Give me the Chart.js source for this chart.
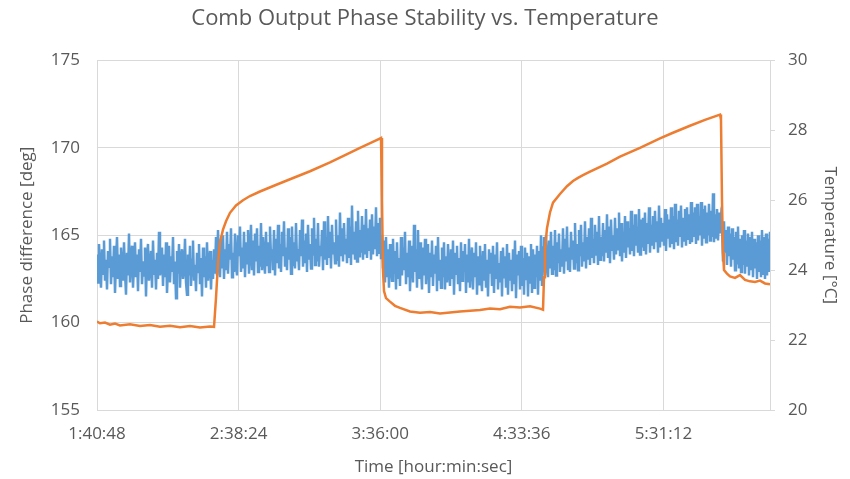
<!DOCTYPE html>
<html>
<head>
<meta charset="utf-8">
<script src="https://cdn.jsdelivr.net/npm/chart.js@4.4.1/dist/chart.umd.min.js"></script>
<style>
  html, body { margin: 0; padding: 0; background: #ffffff; }
  #wrap { width: 850px; height: 479px; }
</style>
</head>
<body>
<div id="wrap"><canvas id="c" width="850" height="479"></canvas></div>
<script>
// ---- Data ----
const chartTitle = 'Comb Output Phase Stability vs. Temperature';
const xTitle = 'Time [hour:min:sec]';
const yLeftTitle = 'Phase difference [deg]';
const yRightTitle = 'Temperature [°C]';

const timeTickLabels = ['1:40:48', '2:38:24', '3:36:00', '4:33:36', '5:31:12'];
const axisEndTime = '6:14:34';
const leftTicks = [155, 160, 165, 170, 175];
const rightTicks = [20, 22, 24, 26, 28, 30];

// Phase difference [deg], evenly sampled from axis start to axis end
const phaseValues = [
  // 1:40:48 – heater on
  163.9, 162.3, 164.5, 163.1, 162.0, 164.2, 162.8, 164.7, 162.4, 163.6,
  161.9, 164.1, 163.2, 164.8, 162.2, 163.8, 162.6, 164.4, 161.7, 163.5,
  164.9, 162.5, 163.9, 162.1, 164.3, 163.0, 162.4, 164.6, 162.9, 161.6,
  164.0, 162.7, 165.1, 162.3, 163.7, 164.4, 162.0, 163.3, 164.6, 162.6,
  163.9, 161.8, 164.2, 162.9, 164.8, 162.2, 163.5, 162.7, 164.3, 161.5,
  163.8, 164.5, 162.4, 163.1, 164.1, 162.0, 164.7, 162.8, 163.6, 161.9,
  164.0, 162.5, 165.2, 162.7, 163.4, 164.3, 162.1, 163.9, 162.6, 164.6,
  161.7, 163.2, 164.4, 162.3, 163.8, 162.9, 164.9, 162.2, 163.5, 161.4,
  164.1, 162.8, 164.5, 162.0, 163.7, 164.2, 162.5, 163.0, 164.8, 162.3,
  161.6, 163.9, 162.7, 164.4, 162.1, 163.6, 164.7, 162.4, 163.3, 161.8,
  164.0, 162.9, 164.5, 162.2, 163.7, 161.5, 164.3, 162.6, 163.8, 162.0,
  164.6, 162.4, 163.4, 164.1, 161.9, 163.6, 162.5, 164.2, 162.8,
  // first warm-up
  164.9, 162.7, 165.3, 163.4, 162.6, 164.8, 163.1, 165.0, 162.5, 164.2,
  163.0, 165.2, 162.8, 164.5, 163.6, 165.4, 162.6, 164.0, 162.9, 165.1,
  163.3, 162.7, 165.0, 163.8, 165.5, 162.9, 164.3, 163.1, 165.2, 162.6,
  164.6, 163.4, 165.3, 162.8, 164.1, 165.6, 163.0, 164.7, 162.7, 165.1,
  163.5, 165.4, 162.9, 164.4, 163.2, 165.7, 163.0, 164.9, 163.6, 162.8,
  165.2, 163.3, 164.6, 162.9, 165.5, 163.7, 164.2, 163.0, 165.3, 162.7,
  164.8, 163.4, 165.6, 163.1, 164.5, 162.9, 165.2, 163.8, 165.8, 163.2,
  164.3, 163.0, 165.4, 163.6, 164.9, 162.8, 165.5, 163.3, 164.6, 163.1,
  165.7, 163.5, 164.2, 163.0, 165.3, 163.8, 165.9, 163.2, 164.7, 163.4,
  165.1, 162.9, 165.6, 163.6, 164.5, 163.1, 165.4, 163.9, 166.0, 163.3,
  164.8, 163.5, 165.7, 163.2, 164.4, 163.8, 165.3, 163.0, 165.8, 163.6,
  164.9, 163.3, 166.1, 163.7, 165.2, 163.1, 165.6, 163.9, 164.6, 163.4,
  165.9, 163.6, 165.0, 163.2, 166.3, 163.8, 165.4, 163.5, 165.7, 163.9,
  164.8, 163.4, 166.0, 163.7, 165.5, 163.3, 166.7, 163.9, 165.2, 163.6,
  165.8, 163.5, 166.4, 163.8, 165.3, 164.0, 166.1, 163.6, 165.6, 163.9,
  166.5, 163.7, 165.4, 164.1, 165.9, 163.6, 166.2, 163.9, 165.5, 164.2,
  166.6, 163.8, 165.7, 164.0, 166.0, 163.7,
  // cool-down
  165.0, 163.1, 164.7, 162.3, 164.9, 162.6, 164.2, 162.0, 164.5, 163.2,
  162.4, 164.8, 162.8, 164.1, 161.9, 164.6, 162.5, 163.7, 162.1, 164.9,
  162.7, 164.3, 163.0, 165.2, 162.2, 164.0, 162.6, 164.7, 161.8, 163.9,
  164.4, 162.3, 165.6, 162.9, 164.2, 162.0, 165.3, 162.5, 164.6, 163.1,
  161.9, 164.3, 162.7, 164.8, 162.2, 163.8, 164.5, 161.7, 164.0, 162.6,
  164.7, 162.1, 163.9, 162.8, 164.4, 161.8, 164.9, 162.4, 163.6, 162.0,
  164.3, 162.6, 164.6, 161.9, 163.8, 162.3, 164.5, 163.0, 162.1, 164.2,
  162.5, 164.7, 161.6, 164.0, 162.8, 164.4, 162.2, 163.7, 161.8, 164.6,
  162.4, 164.1, 162.9, 164.5, 161.7, 163.9, 162.3, 164.8, 162.0, 163.5,
  164.3, 161.9, 164.0, 162.6, 164.6, 161.6, 163.8, 162.2, 164.4, 162.7,
  161.8, 164.1, 162.4, 164.5, 162.0, 163.6, 161.5, 164.2, 162.8, 164.0,
  162.1, 164.4, 161.7, 163.9, 162.5, 164.6, 161.9, 163.4, 162.3, 164.1,
  161.5, 164.3, 162.6, 163.8, 162.0, 164.5, 161.6, 164.0, 162.4, 163.6,
  161.8, 164.2, 162.2, 164.7, 161.4, 163.9, 162.7, 164.1, 161.9, 164.4,
  162.1, 163.7, 161.6, 164.3, 162.5, 164.0, 161.5, 163.8, 162.3, 164.5,
  161.7, 164.2, 162.0, 163.9, 162.6, 164.4, 161.6, 164.1, 162.4, 165.0,
  162.1, 164.3,
  // second warm-up
  164.9, 162.7, 165.0, 163.3, 162.6, 164.7, 163.1, 165.2, 162.8, 164.4,
  163.0, 165.3, 162.7, 164.6, 163.4, 165.1, 162.9, 164.2, 163.2, 165.4,
  162.8, 164.8, 163.5, 165.5, 163.0, 164.3, 162.9, 165.2, 163.6, 164.7,
  163.1, 165.7, 163.4, 164.5, 163.0, 165.3, 163.8, 165.6, 163.2, 164.6,
  163.5, 165.8, 163.1, 164.9, 163.6, 165.4, 163.3, 166.0, 163.7, 164.8,
  163.4, 165.6, 163.9, 165.2, 163.3, 166.1, 163.6, 164.9, 163.8, 165.7,
  163.5, 165.3, 164.0, 166.2, 163.7, 165.5, 163.4, 165.9, 164.1, 165.0,
  163.6, 166.0, 163.9, 165.4, 164.2, 166.3, 163.8, 165.7, 163.5, 165.2,
  164.0, 166.1, 163.7, 165.8, 164.3, 165.4, 163.9, 166.4, 164.1, 165.6,
  163.8, 166.2, 164.4, 165.5, 164.0, 166.5, 163.9, 165.9, 164.3, 166.0,
  164.1, 166.3, 163.9, 165.7, 164.5, 166.6, 164.0, 165.6, 164.4, 166.1,
  164.2, 166.4, 164.6, 165.8, 164.0, 166.7, 164.3, 166.0, 164.7, 165.7,
  164.4, 166.5, 164.1, 166.2, 164.8, 165.9, 164.3, 166.6, 164.5, 166.1,
  164.2, 166.8, 164.6, 165.9, 164.4, 166.4, 164.9, 166.7, 164.3, 166.0,
  164.7, 166.5, 164.4, 166.6, 164.8, 166.2, 164.5, 166.9, 164.6, 166.3,
  164.9, 166.6, 164.5, 166.8, 164.7, 166.1, 165.0, 166.9, 164.4, 166.5,
  164.8, 166.7, 164.6, 166.3, 165.0, 166.8, 164.7, 166.4, 164.9, 167.4,
  164.6, 166.2, 164.8, 166.5, 164.7, 166.3, 165.1, 166.0,
  // final cool-down
  165.6, 163.5, 165.8, 164.0, 165.3, 163.3, 165.5, 163.8, 165.1, 163.2,
  165.4, 163.6, 164.9, 163.0, 165.2, 163.4, 165.5, 163.1, 164.8, 162.9,
  165.0, 163.3, 165.3, 162.8, 164.7, 163.2, 165.1, 162.7, 164.9, 163.0,
  165.2, 162.6, 164.8, 163.1, 164.6, 162.5, 165.0, 162.9, 164.7, 162.6,
  165.3, 162.8, 164.9, 162.5, 165.1, 162.7, 164.8, 162.9, 165.2
];

// Temperature samples: time of day in seconds, and value in °C
const tempTimes = [
  6048, 6121, 6243, 6365, 6487, 6609, 6853, 7098, 7342, 7586,
  7830, 8074, 8318, 8562, 8806, 8904, 8952, 9001, 9050, 9123,
  9197, 9294, 9441, 9611, 9782, 10026, 10441, 10759, 11247, 11735,
  12052, 12467, 12833, 12980, 13004, 13028, 13053, 13102, 13199, 13321,
  13443, 13687, 13931, 14176, 14420, 14664, 14908, 15152, 15396, 15640,
  15884, 16128, 16372, 16616, 16860, 16934, 16958, 16982, 17031, 17104,
  17178, 17348, 17519, 17666, 17788, 17910, 18081, 18496, 18813, 19301,
  19789, 20106, 20521, 20887, 21254, 21278, 21302, 21327, 21351, 21424,
  21498, 21620, 21742, 21864, 21986, 22108, 22230, 22352, 22474
];
const tempValues = [
  22.53, 22.48, 22.50, 22.44, 22.47, 22.42, 22.45, 22.40, 22.43, 22.38,
  22.41, 22.37, 22.40, 22.36, 22.39, 22.38, 23.20, 24.20, 24.80, 25.16,
  25.40, 25.64, 25.85, 26.00, 26.12, 26.25, 26.45, 26.60, 26.83, 27.08,
  27.26, 27.50, 27.70, 27.78, 26.00, 24.00, 23.40, 23.20, 23.10, 22.98,
  22.92, 22.82, 22.78, 22.80, 22.76, 22.79, 22.82, 22.84, 22.86, 22.90,
  22.88, 22.95, 22.93, 22.97, 22.90, 22.87, 23.80, 24.60, 25.20, 25.65,
  25.93, 26.18, 26.40, 26.55, 26.64, 26.72, 26.82, 27.05, 27.25, 27.50,
  27.77, 27.93, 28.13, 28.30, 28.45, 28.30, 26.00, 24.50, 24.00, 23.90,
  23.82, 23.78, 23.86, 23.72, 23.68, 23.66, 23.70, 23.62, 23.60
];

// ---- Helpers ----
function toSec(s) { const p = s.split(':').map(Number); return p[0] * 3600 + p[1] * 60 + p[2]; }
function fmt(sec) {
  sec = Math.round(sec);
  const h = Math.floor(sec / 3600), m = Math.floor((sec % 3600) / 60), s = sec % 60;
  return h + ':' + String(m).padStart(2, '0') + ':' + String(s).padStart(2, '0');
}
const xTickValues = timeTickLabels.map(toSec);
const xMin = xTickValues[0];
const xMax = toSec(axisEndTime);
const phaseStep = (xMax - xMin) / (phaseValues.length - 1);
const phaseData = phaseValues.map((v, i) => ({ x: xMin + i * phaseStep, y: v }));
const tempData = tempValues.map((v, i) => ({ x: tempTimes[i], y: v }));

const txt = '#595959';
const gridC = '#d9d9d9';
const FONT = "'Open Sans', 'DejaVu Sans', sans-serif";

new Chart(document.getElementById('c'), {
  type: 'line',
  data: {
    datasets: [
      { label: 'Phase', data: phaseData, yAxisID: 'yL', borderColor: '#5b9bd5', borderWidth: 2.5,
        pointRadius: 0, tension: 0, order: 2 },
      { label: 'Temperature', data: tempData, yAxisID: 'yR', borderColor: '#ed7d31', borderWidth: 2.5,
        pointRadius: 0, tension: 0, order: 1 }
    ]
  },
  options: {
    responsive: false,
    animation: false,
    layout: { padding: { left: 0, right: 0, top: 0, bottom: 0 } },
    plugins: {
      legend: { display: false },
      tooltip: { enabled: false },
      title: {
        display: true, text: chartTitle, color: txt,
        font: { family: FONT, size: 22, weight: 'normal' },
        padding: { top: 6, bottom: 28 }
      }
    },
    scales: {
      x: {
        type: 'linear', min: xMin, max: xMax,
        afterBuildTicks: (s) => { s.ticks = xTickValues.map(v => ({ value: v })); },
        afterFit: (s) => { s.height = 69; },
        ticks: { color: txt, font: { family: FONT, size: 17 }, padding: 14, maxRotation: 0,
          callback: (v) => fmt(v) },
        grid: { color: gridC, drawTicks: false, tickLength: 0 },
        border: { color: gridC },
        title: { display: true, text: xTitle, color: txt, font: { family: FONT, size: 17 },
          padding: { top: 0, bottom: 2 } }
      },
      yL: {
        position: 'left', min: 155, max: 175,
        afterBuildTicks: (s) => { s.ticks = leftTicks.map(v => ({ value: v })); },
        afterFit: (s) => { s.width = 97; },
        ticks: { color: txt, font: { family: FONT, size: 17 }, padding: 17 },
        grid: { color: gridC, drawTicks: false, tickLength: 0 },
        border: { color: gridC },
        title: { display: true, text: yLeftTitle, color: txt, font: { family: FONT, size: 17 },
          padding: { top: 17, bottom: 0 } }
      },
      yR: {
        position: 'right', min: 20, max: 30,
        afterBuildTicks: (s) => { s.ticks = rightTicks.map(v => ({ value: v })); },
        afterFit: (s) => { s.width = 80; },
        ticks: { color: txt, font: { family: FONT, size: 17 }, padding: 13 },
        grid: { color: gridC, drawOnChartArea: false, drawTicks: true, tickLength: 5 },
        border: { color: gridC },
        title: { display: true, text: yRightTitle, color: txt, font: { family: FONT, size: 17 },
          padding: { top: 10, bottom: 0 } }
      }
    }
  }
});
</script>
</body>
</html>
